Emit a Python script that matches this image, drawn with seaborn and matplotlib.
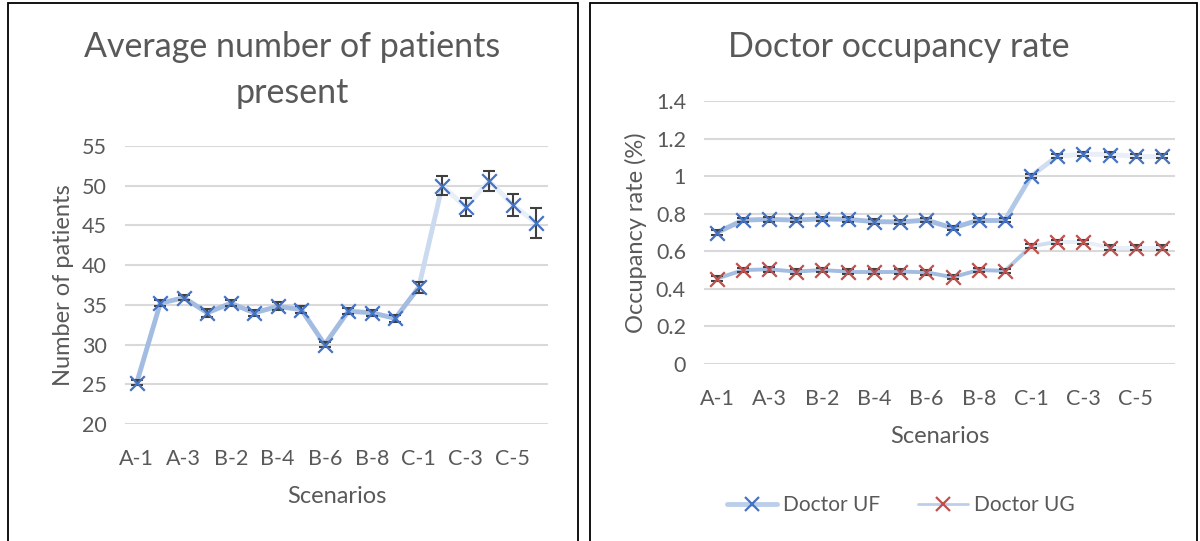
import numpy as np
import pandas as pd
import seaborn as sns
import matplotlib.pyplot as plt
from matplotlib.colors import to_rgb
from matplotlib.lines import Line2D
from matplotlib.patches import Rectangle

# Data
scenarios = ['A-1', 'A-2', 'A-3',
             'B-1', 'B-2', 'B-3', 'B-4', 'B-5', 'B-6', 'B-7', 'B-8', 'B-9',
             'C-1', 'C-2', 'C-3', 'C-4', 'C-5', 'C-6']
patients = [25.2, 35.2, 35.9, 34.0, 35.2, 34.0, 34.8, 34.4, 30.0, 34.2, 34.0, 33.3,
            37.2, 50.0, 47.3, 50.6, 47.6, 45.3]
patients_err = [0.3, 0.4, 0.3, 0.5, 0.4, 0.4, 0.5, 0.4, 0.3, 0.4, 0.4, 0.4,
                0.7, 1.2, 1.1, 1.25, 1.4, 1.9]
doctor_uf = [0.70, 0.766, 0.77, 0.766, 0.773, 0.77, 0.758, 0.756, 0.766, 0.724, 0.766, 0.766,
             1.00, 1.106, 1.117, 1.115, 1.106, 1.106]
doctor_ug = [0.455, 0.50, 0.504, 0.492, 0.50, 0.492, 0.492, 0.492, 0.488, 0.462, 0.50, 0.496,
             0.627, 0.65, 0.65, 0.62, 0.62, 0.62]
occ_err = [0.012] * len(scenarios)
x_ticklabels = scenarios[::2]

text_col = '#595959'
grid_col = '#d9d9d9'
blue = '#4472c4'
red = '#c0504d'
err_col = '#404040'
line_dark = np.array(to_rgb('#a3bde2'))
line_light = np.array(to_rgb('#e8eff8'))

sns.set_theme(style='white')
plt.rcParams['font.family'] = ['Lato', 'DejaVu Sans']
plt.rcParams['text.color'] = text_col

x = np.arange(len(scenarios))
df = pd.DataFrame({'x': x, 'scenario': scenarios, 'patients': patients,
                   'uf': doctor_uf, 'ug': doctor_ug})

fig = plt.figure(figsize=(12, 5.41), dpi=100)
fig.patch.set_facecolor('white')

# panel borders
fig.patches.append(Rectangle((8 / 1200, -0.1), 570 / 1200, 1.1 - 3 / 541, transform=fig.transFigure,
                             fill=False, edgecolor='black', lw=1.3))
fig.patches.append(Rectangle((590 / 1200, -0.1), 607 / 1200, 1.1 - 3 / 541, transform=fig.transFigure,
                             fill=False, edgecolor='black', lw=1.3))

ax1 = fig.add_axes([125 / 1200, 1 - 424 / 541, 423 / 1200, 278 / 541])
ax2 = fig.add_axes([704 / 1200, 1 - 364 / 541, 471 / 1200, 263 / 541])


def fading_line(ax, xs, ys, start, end, lw):
    # Excel-style gradient line: darker on the left, fading out to the right
    for i in range(len(xs) - 1):
        mid = (xs[i] + xs[i + 1]) / 2
        t = np.clip((mid - start) / (end - start), 0, 1)
        c = line_dark * (1 - t) + line_light * t
        ax.plot(xs[i:i + 2], ys[i:i + 2], color=c, lw=lw, solid_capstyle='round', zorder=2)


def style_axis(ax, ylim, yticks, ylabels, ylab):
    ax.set_xlim(-0.5, len(scenarios) - 0.5)
    ax.set_ylim(*ylim)
    ax.set_yticks(yticks)
    ax.set_yticklabels(ylabels)
    ax.set_xticks(x[::2])
    ax.set_xticklabels(x_ticklabels)
    for s in ax.spines.values():
        s.set_visible(False)
    ax.grid(axis='y', color=grid_col, lw=1.5)
    ax.set_axisbelow(True)
    ax.tick_params(axis='both', length=0, labelsize=15.5, colors=text_col)
    ax.tick_params(axis='y', pad=13)
    ax.tick_params(axis='x', pad=18)
    ax.set_xlabel('Scenarios', fontsize=17, color=text_col, labelpad=12)
    ax.set_ylabel(ylab, fontsize=17, color=text_col, labelpad=6)


# Left chart
fading_line(ax1, x, patients, 11.8, 13.0, 3.5)
ax1.errorbar(x, patients, yerr=patients_err, fmt='none', ecolor=err_col, elinewidth=1.5,
             capsize=4, capthick=1.5, zorder=3)
sns.scatterplot(data=df, x='x', y='patients', marker='x', s=110, color=blue, linewidth=1.6,
                ax=ax1, zorder=4)
style_axis(ax1, (20, 55), np.arange(20, 56, 5), [str(v) for v in range(20, 56, 5)],
           'Number of patients')

# Right chart
fading_line(ax2, x, doctor_uf, 11, 13.3, 3.5)
fading_line(ax2, x, doctor_ug, 11, 13.3, 2.8)
ax2.errorbar(x, doctor_uf, yerr=occ_err, fmt='none', ecolor=err_col, elinewidth=1.5,
             capsize=4, capthick=1.5, zorder=3)
ax2.errorbar(x, doctor_ug, yerr=occ_err, fmt='none', ecolor=err_col, elinewidth=1.5,
             capsize=4, capthick=1.5, zorder=3)
sns.scatterplot(data=df, x='x', y='uf', marker='x', s=110, color=blue, linewidth=1.6,
                ax=ax2, zorder=4)
sns.scatterplot(data=df, x='x', y='ug', marker='x', s=110, color=red, linewidth=1.6,
                ax=ax2, zorder=4)
yt2 = [0, 0.2, 0.4, 0.6, 0.8, 1.0, 1.2, 1.4]
style_axis(ax2, (0, 1.4), yt2, ['0', '0.2', '0.4', '0.6', '0.8', '1', '1.2', '1.4'],
           'Occupancy rate (%)')

# Titles
fig.text(292 / 1200, 1 - 47 / 541, 'Average number of patients', ha='center', va='center',
         fontsize=24.5, color=text_col)
fig.text(292 / 1200, 1 - 93 / 541, 'present', ha='center', va='center',
         fontsize=24.5, color=text_col)
fig.text(899 / 1200, 1 - 47 / 541, 'Doctor occupancy rate', ha='center', va='center',
         fontsize=24.5, color=text_col)

# Legend
handles = [Line2D([], [], color='#bccfea', lw=3.5, marker='x', markersize=10,
                  markeredgecolor=blue, markeredgewidth=1.6),
           Line2D([], [], color='#bccfea', lw=2, marker='x', markersize=10,
                  markeredgecolor=red, markeredgewidth=1.6)]
fig.legend(handles, ['Doctor UF', 'Doctor UG'], loc='center', ncol=2,
           bbox_to_anchor=(901 / 1200, 1 - 505 / 541), frameon=False, fontsize=15,
           handlelength=2.4, handletextpad=0.3, columnspacing=1.8, labelcolor=text_col)

fig.savefig('out.png', dpi=100, facecolor='white')
